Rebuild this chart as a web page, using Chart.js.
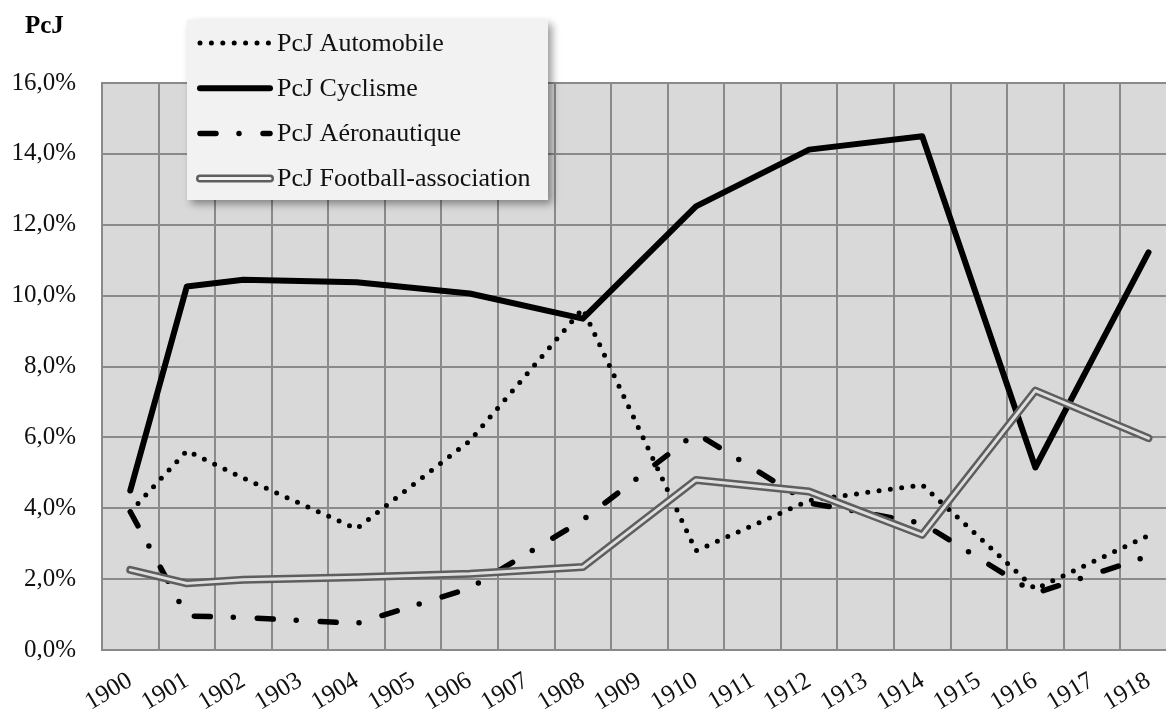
<!DOCTYPE html>
<html lang="fr">
<head>
<meta charset="utf-8">
<title>PcJ par sport</title>
<script src="https://cdn.jsdelivr.net/npm/chart.js@4.4.0/dist/chart.umd.min.js"></script>
<style>
  html, body { margin: 0; padding: 0; background: #fff; overflow: hidden; }
  /* le graphique d'origine est un peu coupé à droite */
  #zoneGraphique { position: relative; width: 1180px; height: 713px; }
</style>
</head>
<body>
<div id="zoneGraphique"><canvas id="graphique"></canvas></div>
<script>
// données (en %), null = année sans valeur
const annees = ['1900', '1901', '1902', '1903', '1904', '1905', '1906', '1907', '1908', '1909',
  '1910', '1911', '1912', '1913', '1914', '1915', '1916', '1917', '1918'];
const automobile = [3.9, 5.62, 4.85, null, 3.42, null, 5.9, null, 9.63, null,
  2.8, null, 4.22, null, 4.66, null, 1.72, null, 3.23];
const cyclisme = [4.5, 10.26, 10.45, null, 10.38, null, 10.06, null, 9.35, null,
  12.52, null, 14.12, null, 14.5, null, 5.15, null, 11.22];
const aeronautique = [3.9, 0.96, 0.92, null, 0.75, null, 1.74, null, 3.67, null,
  6.12, null, 4.15, null, 3.58, null, 1.6, null, 2.65];
const football = [2.26, 1.88, 1.98, null, 2.05, null, 2.15, null, 2.34, null,
  4.8, null, 4.47, null, 3.25, null, 7.32, null, 5.98];
const echelleMax = 16;
const pasEchelle = 2;

const police = "'Liberation Serif', 'Times New Roman', serif";
const fondGraphique = '#d9d9d9';
const couleurGrille = '#8a8a8a';
const couleurTexte = '#111';

function formatPourcent(v) {
  return v.toFixed(1).replace('.', ',') + '%';
}

// fond gris de la zone de tracé
const fondZone = {
  id: 'fondZone',
  beforeDraw(chart) {
    const { ctx, chartArea } = chart;
    ctx.save();
    ctx.fillStyle = fondGraphique;
    ctx.fillRect(chartArea.left, chartArea.top, chartArea.right - chartArea.left, chartArea.bottom - chartArea.top);
    ctx.restore();
  }
};

// titre "PcJ" en haut à gauche
const titreAxe = {
  id: 'titreAxe',
  afterDraw(chart) {
    const ctx = chart.ctx;
    ctx.save();
    ctx.font = 'bold 25px ' + police;
    ctx.fillStyle = '#000';
    ctx.textBaseline = 'alphabetic';
    ctx.fillText('PcJ', 25, 33);
    ctx.restore();
  }
};

// légende dans un cadre avec ombre, par-dessus la zone de tracé
const legendeEncadre = {
  id: 'legendeEncadre',
  afterDraw(chart) {
    const ctx = chart.ctx;
    const cadre = { x: 187, y: 20, w: 361, h: 180 };
    ctx.save();
    ctx.shadowColor = 'rgba(0, 0, 0, 0.4)';
    ctx.shadowBlur = 8;
    ctx.shadowOffsetX = 4;
    ctx.shadowOffsetY = 4;
    ctx.fillStyle = '#f2f2f2';
    ctx.fillRect(cadre.x, cadre.y, cadre.w, cadre.h);
    ctx.restore();

    let ligne = 0;
    chart.data.datasets.forEach(ds => {
      if (ds.interieur) return;
      const y = cadre.y + 23 + ligne * 45.2;
      ctx.save();
      ctx.lineCap = 'round';
      ctx.strokeStyle = ds.borderColor;
      ctx.lineWidth = ds.borderWidth;
      ctx.setLineDash(ds.borderDash || []);
      ctx.beginPath();
      ctx.moveTo(200, y);
      ctx.lineTo(270, y);
      ctx.stroke();
      if (ds.label === 'PcJ Football-association') {
        ctx.strokeStyle = '#f2f2f2';
        ctx.lineWidth = 3;
        ctx.beginPath();
        ctx.moveTo(200, y);
        ctx.lineTo(270, y);
        ctx.stroke();
      }
      ctx.setLineDash([]);
      ctx.font = '26px ' + police;
      ctx.fillStyle = couleurTexte;
      ctx.textBaseline = 'middle';
      ctx.fillText(ds.label, 277, y + 1);
      ctx.restore();
      ligne++;
    });
  }
};

const ctx = document.getElementById('graphique').getContext('2d');

new Chart(ctx, {
  type: 'line',
  data: {
    labels: annees,
    datasets: [
      { label: 'PcJ Automobile', data: automobile, borderColor: '#000', borderWidth: 5, borderDash: [0, 11.4], order: 4 },
      { label: 'PcJ Cyclisme', data: cyclisme, borderColor: '#000', borderWidth: 6, order: 3 },
      { label: 'PcJ Aéronautique', data: aeronautique, borderColor: '#000', borderWidth: 5.5, borderDash: [16, 23, 0, 24], order: 2 },
      { label: 'PcJ Football-association', data: football, borderColor: '#5e5e5e', borderWidth: 8, order: 1 },
      // trait intérieur clair pour faire la double ligne
      { label: '', data: football, borderColor: '#dedede', borderWidth: 3, order: 0, interieur: true }
    ]
  },
  options: {
    responsive: true,
    maintainAspectRatio: false,
    animation: false,
    spanGaps: true,
    layout: { padding: { top: 83, right: 2, left: 0, bottom: 0 } },
    elements: {
      point: { radius: 0, hoverRadius: 0 },
      line: { tension: 0, fill: false, borderCapStyle: 'round', borderJoinStyle: 'round' }
    },
    plugins: {
      legend: { display: false },
      tooltip: { enabled: false }
    },
    scales: {
      x: {
        offset: true,
        grid: { offset: true, color: couleurGrille, lineWidth: 2, drawTicks: false },
        border: { color: couleurGrille, width: 2 },
        ticks: {
          autoSkip: false,
          minRotation: 31,
          maxRotation: 31,
          padding: 16,
          color: couleurTexte,
          font: { family: police, size: 25 }
        },
        afterFit(scale) { scale.height = 63; }
      },
      y: {
        min: 0,
        max: echelleMax,
        grid: { color: couleurGrille, lineWidth: 2, drawTicks: false },
        border: { color: couleurGrille, width: 2 },
        ticks: {
          stepSize: pasEchelle,
          padding: 26,
          color: couleurTexte,
          font: { family: police, size: 25 },
          callback: v => formatPourcent(v)
        },
        afterFit(scale) { scale.width = 102; }
      }
    }
  },
  plugins: [fondZone, titreAxe, legendeEncadre]
});
</script>
</body>
</html>
